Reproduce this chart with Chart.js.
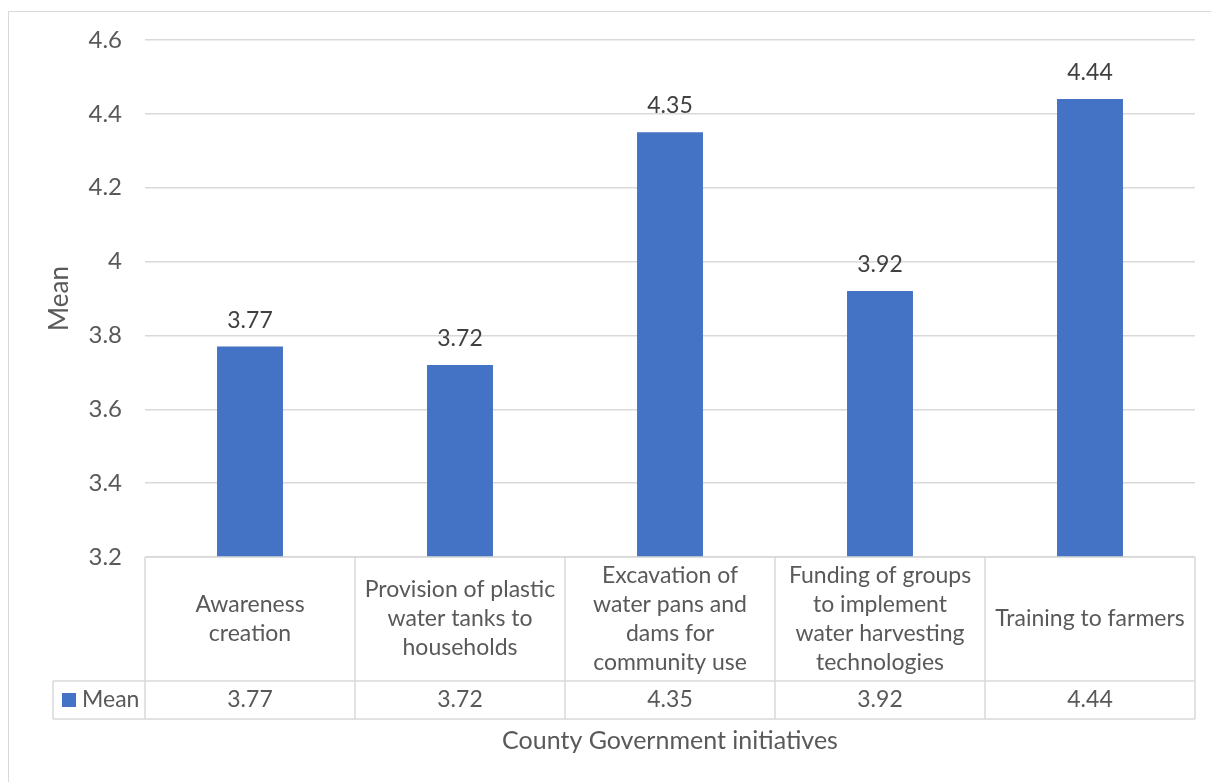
<!DOCTYPE html>
<html>
<head>
<meta charset="utf-8">
<script src="https://cdn.jsdelivr.net/npm/chart.js@4"></script>
<style>
  html, body { margin: 0; padding: 0; background: #fff; }
  #wrap { width: 1211px; height: 782px; }
</style>
</head>
<body>
<div id="wrap"><canvas id="meanChart" width="1211" height="782"></canvas></div>
<script>
// chart data
const categories = [
    ['Awareness', 'creation'],
    ['Provision of plastic', 'water tanks to', 'households'],
    ['Excavation of', 'water pans and', 'dams for', 'community use'],
    ['Funding of groups', 'to implement', 'water harvesting', 'technologies'],
    ['Training to farmers']
];
const meanValues = [3.77, 3.72, 4.35, 3.92, 4.44];
const seriesName = 'Mean';
const yTitle = 'Mean';
const xTitle = 'County Government initiatives';
const yMin = 3.2, yMax = 4.6, yStep = 0.2;

const FONT = 'Lato, "Open Sans", sans-serif';
const GRID = '#d9d9d9';
const TEXT = '#595959';
const BAR = '#4472c4';

// white background + outer frame
const frame = {
    id: 'frame',
    beforeDraw(chart) {
        const ctx = chart.ctx;
        ctx.save();
        ctx.fillStyle = '#fff';
        ctx.fillRect(0, 0, chart.width, chart.height);
        ctx.strokeStyle = GRID;
        ctx.lineWidth = 1;
        ctx.strokeRect(8.5, 11.5, chart.width + 20, chart.height + 20);
        ctx.restore();
    }
};

// value labels above the bars
const barLabels = {
    id: 'barLabels',
    afterDatasetsDraw(chart) {
        const ctx = chart.ctx;
        const meta = chart.getDatasetMeta(0);
        ctx.save();
        ctx.font = '23px ' + FONT;
        ctx.fillStyle = '#404040';
        ctx.textAlign = 'center';
        ctx.textBaseline = 'alphabetic';
        meta.data.forEach((bar, i) => {
            ctx.fillText(meanValues[i].toFixed(2), bar.x, bar.y - 19);
        });
        ctx.restore();
    }
};

// data table under the plot + x axis title
const dataTable = {
    id: 'dataTable',
    afterDraw(chart) {
        const ctx = chart.ctx;
        const xs = chart.scales.x;
        const area = chart.chartArea;
        const left = area.left, right = area.right;
        const top = area.bottom;
        const mid = top + 124, bottom = top + 162;
        const legendLeft = 53;
        const n = categories.length;
        const w = (right - left) / n;

        ctx.save();
        ctx.strokeStyle = GRID;
        ctx.lineWidth = 1.5;
        ctx.beginPath();
        ctx.moveTo(left, top); ctx.lineTo(right, top);
        ctx.moveTo(legendLeft, mid); ctx.lineTo(right, mid);
        ctx.moveTo(legendLeft, bottom); ctx.lineTo(right, bottom);
        ctx.moveTo(legendLeft, mid); ctx.lineTo(legendLeft, bottom);
        for (let i = 0; i <= n; i++) {
            const x = left + i * w;
            ctx.moveTo(x, top); ctx.lineTo(x, bottom);
        }
        ctx.stroke();

        ctx.font = '23px ' + FONT;
        ctx.fillStyle = TEXT;
        ctx.textAlign = 'center';
        ctx.textBaseline = 'middle';
        const lh = 29;
        categories.forEach((lines, i) => {
            const cx = xs.getPixelForValue(i);
            const y0 = (top + mid) / 2 - (lines.length - 1) * lh / 2;
            lines.forEach((t, j) => ctx.fillText(t, cx, y0 + j * lh));
            ctx.fillText(meanValues[i].toFixed(2), cx, (mid + bottom) / 2);
        });

        // legend key
        ctx.fillStyle = BAR;
        ctx.fillRect(62, 693, 14, 14);
        ctx.fillStyle = TEXT;
        ctx.textAlign = 'left';
        ctx.fillText(seriesName, 82, (mid + bottom) / 2);

        // axis title
        ctx.font = '25px ' + FONT;
        ctx.textAlign = 'center';
        ctx.fillText(xTitle, (left + right) / 2, 741);
        ctx.restore();
    }
};

new Chart(document.getElementById('meanChart').getContext('2d'), {
    type: 'bar',
    data: {
        labels: categories,
        datasets: [{
            label: seriesName,
            data: meanValues,
            backgroundColor: BAR,
            borderWidth: 0,
            categoryPercentage: 1,
            barPercentage: 0.314
        }]
    },
    options: {
        responsive: false,
        animation: false,
        devicePixelRatio: 1,
        layout: { padding: { top: 40, right: 16, bottom: 0, left: 0 } },
        plugins: {
            legend: { display: false },
            tooltip: { enabled: false }
        },
        scales: {
            x: {
                ticks: { display: false },
                grid: { display: false },
                border: { display: false },
                afterFit(scale) { scale.height = 225; }
            },
            y: {
                min: yMin,
                max: yMax,
                ticks: {
                    stepSize: yStep,
                    padding: 23,
                    color: TEXT,
                    font: { family: FONT, size: 24 },
                    callback: (v) => String(+v.toFixed(1))
                },
                grid: { color: GRID, lineWidth: 1.5, drawTicks: false },
                border: { display: false },
                title: {
                    display: true,
                    text: yTitle,
                    color: TEXT,
                    font: { family: FONT, size: 26 },
                    padding: { top: 44, bottom: 0 }
                },
                afterFit(scale) { scale.width = 145; }
            }
        }
    },
    plugins: [frame, barLabels, dataTable]
});
</script>
</body>
</html>
